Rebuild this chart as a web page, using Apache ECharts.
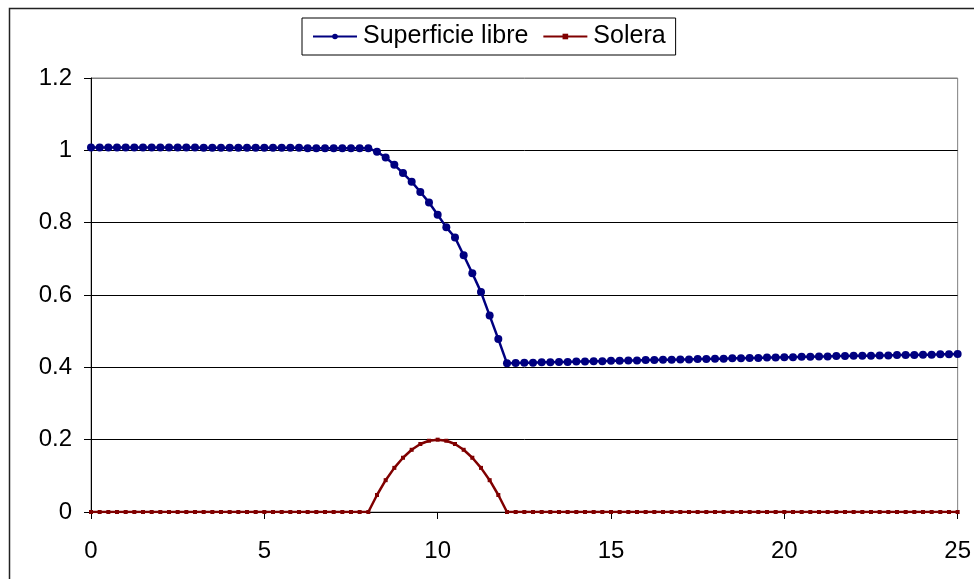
<!DOCTYPE html>
<html>
<head>
<meta charset="utf-8">
<script src="https://cdn.jsdelivr.net/npm/echarts@6/dist/echarts.min.js"></script>
<style>
html,body{margin:0;padding:0;background:#fff;}
#chart{width:974px;height:579px;}
</style>
</head>
<body>
<div id="chart"></div>
<script>
const xs = [0,0.25,0.5,0.75,1,1.25,1.5,1.75,2,2.25,2.5,2.75,3,3.25,3.5,3.75,4,4.25,4.5,4.75,
  5,5.25,5.5,5.75,6,6.25,6.5,6.75,7,7.25,7.5,7.75,8,8.25,8.5,8.75,9,9.25,9.5,9.75,
  10,10.25,10.5,10.75,11,11.25,11.5,11.75,12,12.25,12.5,12.75,13,13.25,13.5,13.75,14,14.25,14.5,14.75,
  15,15.25,15.5,15.75,16,16.25,16.5,16.75,17,17.25,17.5,17.75,18,18.25,18.5,18.75,19,19.25,19.5,19.75,
  20,20.25,20.5,20.75,21,21.25,21.5,21.75,22,22.25,22.5,22.75,23,23.25,23.5,23.75,24,24.25,24.5,24.75,25];

const superficie = [1.008,1.008,1.008,1.008,1.008,1.008,1.008,1.008,1.008,1.008,1.008,1.008,1.008,1.007,1.007,1.007,1.007,1.007,1.007,1.007,
  1.007,1.007,1.007,1.007,1.007,1.006,1.006,1.006,1.006,1.006,1.006,1.006,1.006,0.996,0.980,0.960,0.937,0.913,0.885,0.856,
  0.822,0.787,0.759,0.710,0.660,0.608,0.543,0.478,0.411,0.412,0.413,0.413,0.414,0.414,0.415,0.415,0.416,0.416,0.417,0.417,
  0.418,0.418,0.419,0.419,0.420,0.420,0.421,0.421,0.422,0.422,0.423,0.423,0.424,0.424,0.425,0.425,0.426,0.426,0.427,0.427,
  0.428,0.428,0.429,0.429,0.430,0.430,0.431,0.431,0.432,0.432,0.432,0.433,0.433,0.434,0.434,0.434,0.435,0.435,0.436,0.436,0.437];

const solera = [0,0,0,0,0,0,0,0,0,0,0,0,0,0,0,0,0,0,0,0,
  0,0,0,0,0,0,0,0,0,0,0,0,0,0.047,0.088,0.122,0.150,0.172,0.188,0.197,
  0.200,0.197,0.188,0.172,0.150,0.122,0.088,0.047,0,0,0,0,0,0,0,0,0,0,0,0,
  0,0,0,0,0,0,0,0,0,0,0,0,0,0,0,0,0,0,0,0,
  0,0,0,0,0,0,0,0,0,0,0,0,0,0,0,0,0,0,0,0,0];

const seriesNames = ['Superficie libre', 'Solera'];

const FONT = 'Liberation Sans, Arial, sans-serif';
const chart = echarts.init(document.getElementById('chart'), null, {renderer:'canvas'});
chart.setOption({
  backgroundColor:'#fff',
  animation:false,
  textStyle:{fontFamily:FONT},
  graphic:[{
    type:'rect', left:7, top:6, silent:true, z:-1,
    shape:{x:0,y:0,width:1200,height:1200},
    style:{fill:'none', stroke:'#222', lineWidth:1.5}
  }],
  legend:{
    left:302, top:18,
    data:[
      {name:seriesNames[0], itemStyle:{}},
      {name:seriesNames[1]}
    ],
    itemWidth:44, itemHeight:7, itemGap:14,
    padding:[6,10,6,10],
    borderColor:'#000', borderWidth:1,
    textStyle:{fontSize:25, color:'#000', fontFamily:FONT, padding:[0,0,0,1]}
  },
  grid:{left:91, right:16, top:78, bottom:67, show:true, borderColor:'#808080', borderWidth:1},
  xAxis:{
    type:'value', min:0, max:25, interval:5,
    axisLine:{lineStyle:{color:'#000', width:1}},
    axisTick:{show:true, inside:false, length:7, lineStyle:{color:'#000'}},
    axisLabel:{fontSize:24, color:'#000', margin:27, fontFamily:FONT},
    splitLine:{show:false}
  },
  yAxis:{
    type:'value', min:0, max:1.2, interval:0.2,
    axisLine:{show:true, lineStyle:{color:'#000', width:1}},
    axisTick:{show:true, inside:false, length:7, lineStyle:{color:'#000'}},
    axisLabel:{fontSize:24, color:'#000', margin:19, fontFamily:FONT},
    splitLine:{show:true, lineStyle:{color:['#000','#000','#000','#000','#000','#000','#808080'], width:1}}
  },
  series:[
    {
      name:seriesNames[0], type:'line',
      data:xs.map((x,i)=>[x, superficie[i]]),
      symbol:'circle', symbolSize:8, showAllSymbol:true,
      lineStyle:{color:'#000080', width:2.5},
      itemStyle:{color:'#000080'},
      z:3
    },
    {
      name:seriesNames[1], type:'line',
      data:xs.map((x,i)=>[x, solera[i]]),
      symbol:'rect', symbolSize:4, showAllSymbol:true,
      lineStyle:{color:'#800000', width:2.5},
      itemStyle:{color:'#800000'},
      z:2
    }
  ]
});
</script>
</body>
</html>
